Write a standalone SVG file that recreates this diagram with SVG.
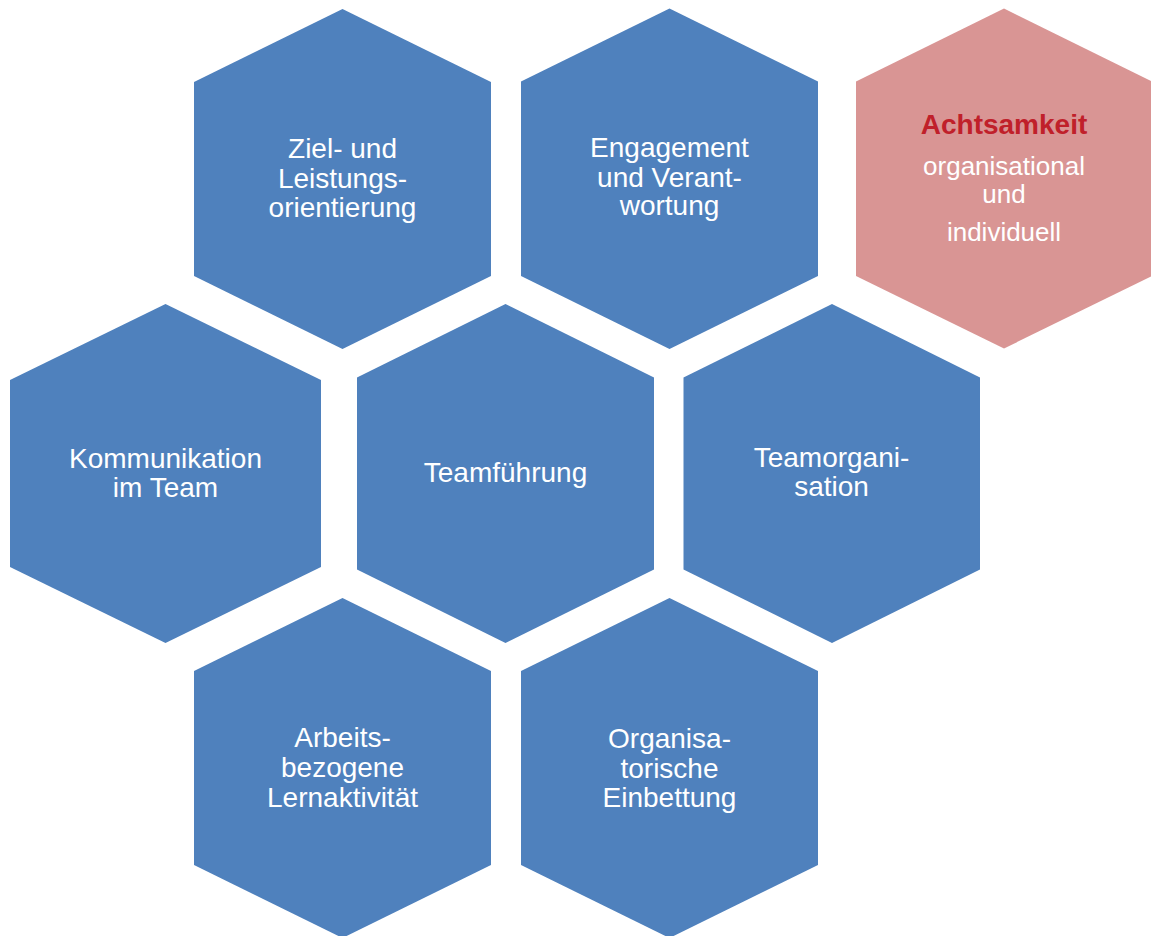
<svg xmlns="http://www.w3.org/2000/svg" width="1151" height="936" viewBox="0 0 1151 936">
  <style>
    .hex { fill: #4F81BD; }
    .hex-accent { fill: #D99594; }
    .lbl { font-family: "Liberation Sans", Arial, sans-serif; font-size: 28px; fill: #FFFFFF; text-anchor: middle; }
    .title { font-family: "Liberation Sans", Arial, sans-serif; font-size: 28px; font-weight: bold; fill: #C0202A; text-anchor: middle; }
    .sub { font-family: "Liberation Sans", Arial, sans-serif; font-size: 26px; fill: #FFFFFF; text-anchor: middle; }
  </style>
  <rect width="1151" height="936" fill="#FFFFFF"/>

  <!-- Row 1 -->
  <g id="ziel-leistung">
    <polygon class="hex" points="342.5,9 491,82 491,276 342.5,349 194,276 194,82"/>
    <text class="lbl" x="342.5" y="158">Ziel- und</text>
    <text class="lbl" x="342.5" y="188">Leistungs-</text>
    <text class="lbl" x="342.5" y="217">orientierung</text>
  </g>
  <g id="engagement">
    <polygon class="hex" points="669.5,8.5 818,81.5 818,276 669.5,349 521,276 521,81.5"/>
    <text class="lbl" x="669.5" y="157">Engagement</text>
    <text class="lbl" x="669.5" y="187">und Verant-</text>
    <text class="lbl" x="669.5" y="215">wortung</text>
  </g>
  <g id="achtsamkeit">
    <polygon class="hex-accent" points="1004,8.5 1152,81.5 1152,276 1004,348.5 856,276 856,81.5"/>
    <text class="title" x="1004" y="134">Achtsamkeit</text>
    <text class="sub" x="1004" y="175">organisational</text>
    <text class="sub" x="1004" y="203">und</text>
    <text class="sub" x="1004" y="241">individuell</text>
  </g>

  <!-- Row 2 -->
  <g id="kommunikation">
    <polygon class="hex" points="165.5,304 321,380 321,567 165.5,643 10,567 10,380"/>
    <text class="lbl" x="165.5" y="468">Kommunikation</text>
    <text class="lbl" x="165.5" y="497">im Team</text>
  </g>
  <g id="teamfuehrung">
    <polygon class="hex" points="505.5,304 654,377.5 654,569.5 505.5,643 357,569.5 357,377.5"/>
    <text class="lbl" x="505.5" y="482">Teamführung</text>
  </g>
  <g id="teamorganisation">
    <polygon class="hex" points="832,304 980,377.5 980,569.5 832,643 683.5,569.5 683.5,377.5"/>
    <text class="lbl" x="831.5" y="467">Teamorgani-</text>
    <text class="lbl" x="831.5" y="496">sation</text>
  </g>

  <!-- Row 3 -->
  <g id="lernaktivitaet">
    <polygon class="hex" points="342.5,598 491,671 491,865 342.5,938 194,865 194,671"/>
    <text class="lbl" x="342.5" y="747">Arbeits-</text>
    <text class="lbl" x="342.5" y="777">bezogene</text>
    <text class="lbl" x="342.5" y="807">Lernaktivität</text>
  </g>
  <g id="einbettung">
    <polygon class="hex" points="669.5,598 818,671 818,865 669.5,938 521,865 521,671"/>
    <text class="lbl" x="669.5" y="748">Organisa-</text>
    <text class="lbl" x="669.5" y="778">torische</text>
    <text class="lbl" x="669.5" y="807">Einbettung</text>
  </g>

  <!-- no connectors in this figure -->
  <g id="connectors"/>
</svg>
